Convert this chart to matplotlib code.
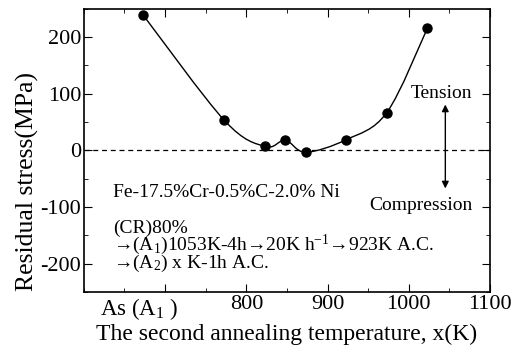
import matplotlib.pyplot as plt
import numpy as np
from matplotlib.path import Path
from matplotlib.patches import PathPatch, FancyArrowPatch
from matplotlib.ticker import MultipleLocator, FixedLocator

plt.rcParams['font.family'] = ['Liberation Serif', 'DejaVu Serif']
plt.rcParams['mathtext.fontset'] = 'custom'
plt.rcParams['mathtext.rm'] = 'Liberation Serif'
plt.rcParams['mathtext.it'] = 'Liberation Serif'
plt.rcParams['axes.unicode_minus'] = False

# second annealing temperature (K) and residual stress (MPa)
temps = [673, 773, 823, 848, 873, 923, 973, 1023]
stress = [239, 53, 7, 18, -3, 19, 67, 216]

x_ticks = [700, 800, 900, 1000, 1100]
x_labels = ['', '800', '900', '1000', '1100']
y_ticks = [-200, -100, 0, 100, 200]

process_lines = [
    '(CR)80%',
    '→(A$_1$)1053K-4h→20K h$^{-1}$→923K A.C.',
    '→(A$_2$) x K-1h A.C.',
]


def smooth_path(xs, ys):
    # Catmull-Rom through the points, written as cubic Bezier segments
    pts = np.column_stack([xs, ys]).astype(float)
    verts = [pts[0]]
    codes = [Path.MOVETO]
    n = len(pts)
    for i in range(n - 1):
        p0 = pts[max(i - 1, 0)]
        p1 = pts[i]
        p2 = pts[i + 1]
        p3 = pts[min(i + 2, n - 1)]
        c1 = p1 + (p2 - p0) / 6.0
        c2 = p2 - (p3 - p1) / 6.0
        verts += [c1, c2, p2]
        codes += [Path.CURVE4] * 3
    return Path(verts, codes)


fig = plt.figure(figsize=(5.21, 3.54), dpi=100)
ax = fig.add_axes([0.161, 0.175, 0.7795, 0.80])

ax.add_patch(PathPatch(smooth_path(temps, stress), fill=False, lw=1.0, color='black'))
ax.plot(temps, stress, 'o', color='black', markersize=6.5, zorder=3)
ax.axhline(0, color='black', lw=0.9, ls=(0, (4, 3)))

ax.set_xlim(600, 1100)
ax.set_ylim(-250, 250)
ax.xaxis.set_major_locator(FixedLocator(x_ticks))
ax.set_xticklabels(x_labels)
ax.xaxis.set_minor_locator(MultipleLocator(50))
ax.yaxis.set_major_locator(FixedLocator(y_ticks))
ax.yaxis.set_minor_locator(MultipleLocator(50))
ax.tick_params(which='both', direction='in', top=True, right=True, labelsize=16, pad=2)
ax.tick_params(which='major', length=6)
ax.tick_params(which='minor', length=3)
for sp in ax.spines.values():
    sp.set_linewidth(1.2)

ax.text(668, -257, 'As (A$_1$ )', ha='center', va='top', fontsize=16.5)

ax.set_xlabel('The second annealing temperature, x(K)', fontsize=17, labelpad=7)
ax.set_ylabel('Residual stress(MPa)', fontsize=18.5)
ax.yaxis.set_label_coords(-0.11, 0.39)

ax.text(1078, 100, 'Tension', ha='right', va='center', fontsize=14)
ax.text(1078, -97, 'Compression', ha='right', va='center', fontsize=14)
ax.add_patch(FancyArrowPatch((1045, -72), (1045, 86), arrowstyle='<|-|>',
                             mutation_scale=10, color='black', lw=1.0))

ax.text(636, -75, 'Fe-17.5%Cr-0.5%C-2.0% Ni', fontsize=14, va='center')
ax.text(636, -123, '\n'.join(process_lines), fontsize=14, va='top', linespacing=0.72)

fig.savefig('out.png', dpi=100)
